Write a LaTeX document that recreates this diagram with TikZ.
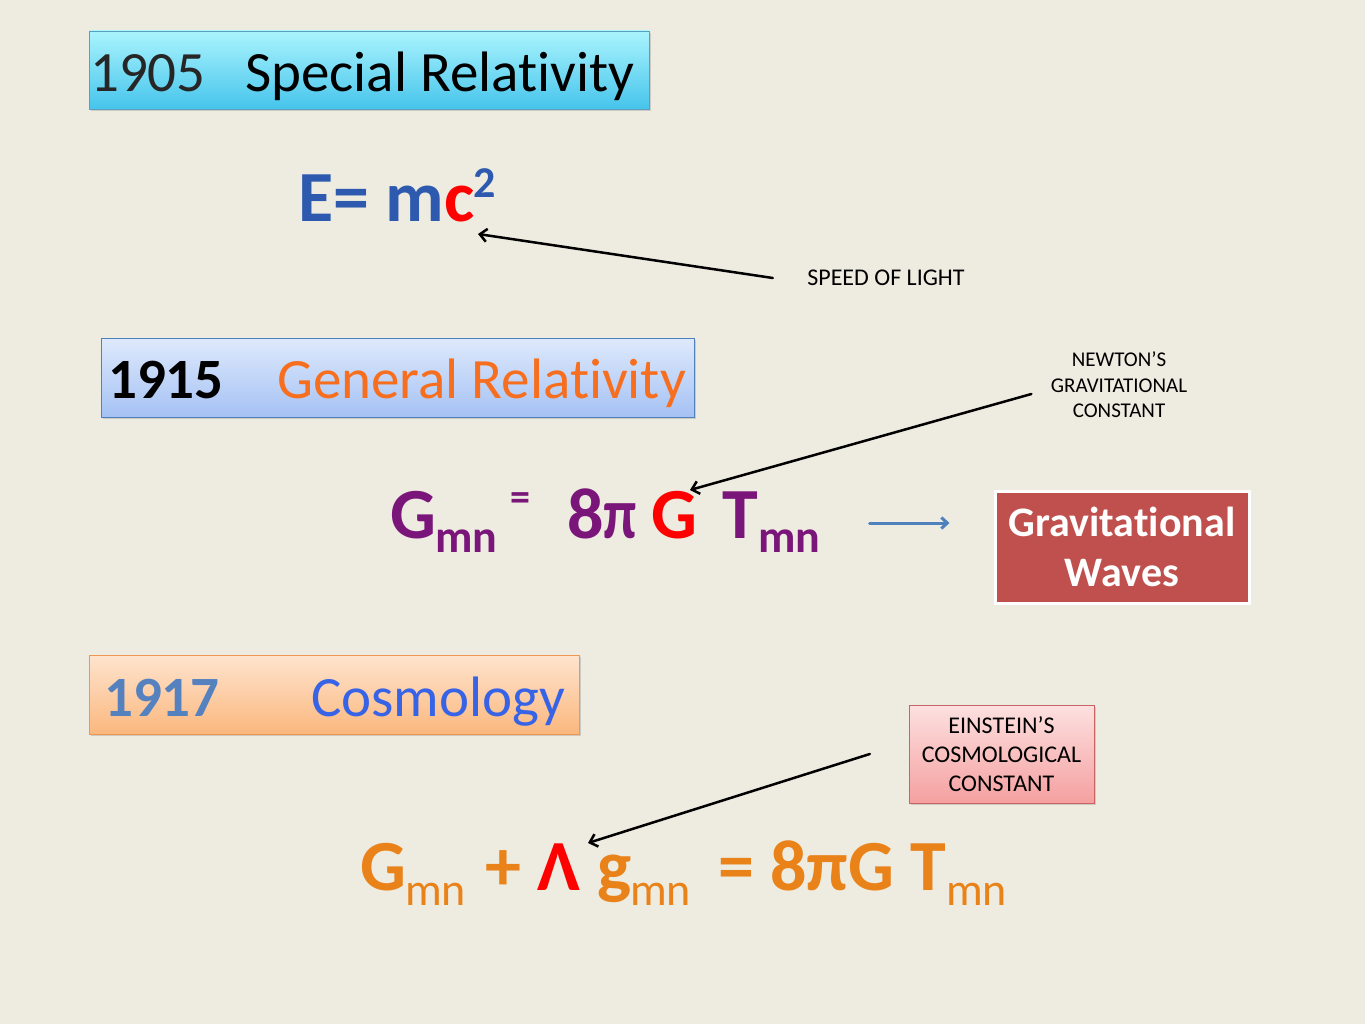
\documentclass[tikz,border=0pt]{standalone}
\usepackage{fontspec}
\setmainfont{Carlito}[Ligatures=NoCommon]
\usetikzlibrary{shadows,arrows.meta}
\definecolor{paper}{RGB}{238,235,224}
\definecolor{srtop}{RGB}{170,244,253}
\definecolor{srbot}{RGB}{70,196,236}
\definecolor{srline}{RGB}{90,160,190}
\definecolor{grtop}{RGB}{222,233,252}
\definecolor{grbot}{RGB}{165,194,244}
\definecolor{grline}{RGB}{79,129,189}
\definecolor{grorange}{RGB}{247,110,30}
\definecolor{costop}{RGB}{254,228,206}
\definecolor{cosbot}{RGB}{251,183,126}
\definecolor{cosline}{RGB}{240,150,80}
\definecolor{cosblue}{RGB}{55,100,230}
\definecolor{yearblue}{RGB}{85,130,190}
\definecolor{emcblue}{RGB}{45,90,175}
\definecolor{eqpurple}{RGB}{122,22,122}
\definecolor{eqorange}{RGB}{232,130,25}
\definecolor{wavesred}{RGB}{192,80,77}
\definecolor{wavesblue}{RGB}{79,129,189}
\definecolor{ectop}{RGB}{253,224,224}
\definecolor{ecbot}{RGB}{245,160,160}
\definecolor{ecline}{RGB}{200,100,100}
\tikzset{
  yearbox/.style={draw=#1, line width=0.8pt, inner sep=0pt,
    drop shadow={opacity=0.3, shadow xshift=2pt, shadow yshift=-2pt}},
  big/.style={font=\fontsize{57}{62}\selectfont, inner sep=0pt, anchor=base west},
  eqbig/.style={font=\bfseries\fontsize{72}{80}\selectfont, inner sep=0pt, anchor=base west},
  eqsub/.style={font=\bfseries\fontsize{46}{50}\selectfont, inner sep=0pt, anchor=base west},
  note/.style={font=\fontsize{21}{25.5}\selectfont, align=center},
  pointer/.style={-{Straight Barb[length=7pt,width=13pt]}, line width=2.5pt, line cap=round},
}
\begin{document}
\begin{tikzpicture}[x=1pt,y=-1pt]
\fill[paper] (0,0) rectangle (1365,1024);
\useasboundingbox (0,0) rectangle (1365,1024);
% 1905
\node[yearbox=srline, top color=srtop, bottom color=srbot, minimum width=560pt, minimum height=78pt] (srbox) at (369,70) {};
\node[big, text=black!85] (y1905) at (90,92) {1905};
\node[big] (sr) at (245,92) {Special Relativity};
\node[eqbig, text=emcblue, font=\bfseries\fontsize{72}{80}\selectfont] (emc) at (298,222) {E= m\textcolor{red}{c}};
\node[eqsub, text=emcblue, font=\bfseries\fontsize{44}{50}\selectfont] (sq) at (473,198) {2};
\coordinate (cend) at (478,234);
\node[note, font=\fontsize{24}{28}\selectfont] (sol) at (886,278) {SPEED OF LIGHT};
\draw[pointer] ([xshift=-31pt]sol.west) -- (cend);
% 1915
\node[yearbox=grline, top color=grtop, bottom color=grbot, minimum width=593pt, minimum height=79pt] (grbox) at (397.5,377.5) {};
\node[big, font=\bfseries\fontsize{57}{62}\selectfont] (y1915) at (108,398) {1915};
\node[big, text=grorange] (gr) at (277,398) {General Relativity};
\node[note] (ngc) at (1119,385) {NEWTON’S\\GRAVITATIONAL\\CONSTANT};
\node[eqbig, text=eqpurple] (gmn) at (390,538) {G};
\node[eqsub, text=eqpurple] (gsub) at (435,552) {mn};
\node[eqsub, text=eqpurple, font=\bfseries\fontsize{40}{44}\selectfont, anchor=center] (eqa) at (520,502) {=};
\node[eqbig, text=eqpurple] (epi) at (567,538) {8\scalebox{0.8}[1]{π}};
\node[eqbig, text=red] (gnew) at (651,538) {G};
\node[eqbig, text=eqpurple] (tmn) at (722,538) {T};
\node[eqsub, text=eqpurple] (tsub) at (758,552) {mn};
\coordinate (gend) at (690,490);
\draw[pointer] ([shift={(-16pt,-9pt)}]ngc.west) -- (gend);
\node[draw=white, line width=3pt, fill=wavesred, minimum width=254pt, minimum height=112pt, align=center, text=white, font=\bfseries\fontsize{42}{50}\selectfont, drop shadow={opacity=0.3, shadow xshift=2pt, shadow yshift=-2pt}] (gw) at (1122,547) {Gravitational\\Waves};
\draw[pointer, wavesblue, line width=3pt, -{Straight Barb[length=6pt,width=11pt]}] ([shift={(-124pt,24pt)}]gw.west) -- ([shift={(-44pt,24pt)}]gw.west);
% 1917
\node[yearbox=cosline, top color=costop, bottom color=cosbot, minimum width=490pt, minimum height=79pt] (cosbox) at (334,694.5) {};
\node[big, font=\bfseries\fontsize{57}{62}\selectfont, text=yearblue] (y1917) at (104,716) {1917};
\node[big, text=cosblue] (cos) at (311,716) {Cosmology};
\node[draw=ecline, top color=ectop, bottom color=ecbot, minimum width=185pt, minimum height=98pt, align=center, font=\fontsize{24}{29}\selectfont, drop shadow={opacity=0.3, shadow xshift=2pt, shadow yshift=-2pt}] (ecc) at (1001.5,754) {EINSTEIN’S\\COSMOLOGICAL\\CONSTANT};
\node[eqbig, text=eqorange] (cg) at (360,890) {G};
\node[eqsub, text=eqorange, font=\fontsize{46}{50}\selectfont] (cgsub) at (405,905) {mn};
\node[eqbig, text=eqorange] (plus) at (485,890) {+};
\node[eqbig, text=red] (lam) at (537,890) {Λ};
\node[eqbig, text=eqorange] (cgg) at (597,890) {g};
\node[eqsub, text=eqorange, font=\fontsize{46}{50}\selectfont] (ggsub) at (630,905) {mn};
\node[eqbig, text=eqorange] (eqb) at (718,890) {=};
\node[eqbig, text=eqorange] (rhs) at (770,890) {8πG};
\node[eqbig, text=eqorange] (ct) at (910,890) {T};
\node[eqsub, text=eqorange, font=\fontsize{46}{50}\selectfont] (ctsub) at (946,905) {mn};
\coordinate (lend) at (588,843);
\draw[pointer] ([xshift=-39pt]ecc.west) -- (lend);
\end{tikzpicture}
\end{document}
